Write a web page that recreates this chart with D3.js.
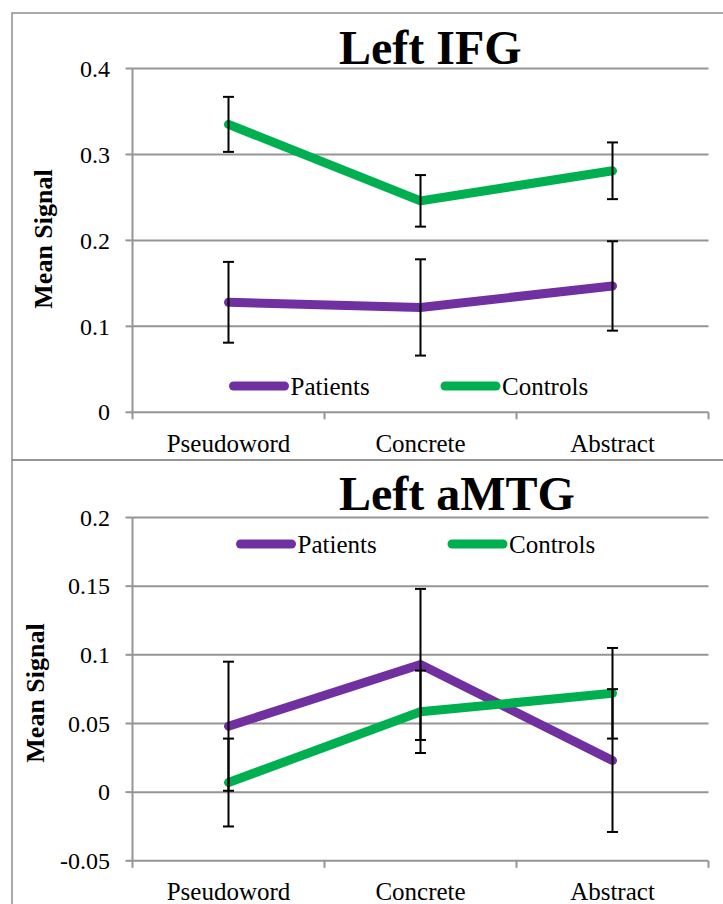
<!DOCTYPE html>
<html><head><meta charset="utf-8">
<script src="https://cdn.jsdelivr.net/npm/d3@7"></script>
<style>html,body{margin:0;padding:0;background:#fff;}svg{display:block;}</style>
</head><body>
<svg id="c" width="723" height="904"></svg>
<script>
const categories = ["Pseudoword", "Concrete", "Abstract"];
const seriesNames = ["Patients", "Controls"];
const ifgPatients = [0.128, 0.122, 0.147];
const ifgPatientsErr = [0.047, 0.056, 0.052];
const ifgControls = [0.335, 0.246, 0.281];
const ifgControlsErr = [0.032, 0.030, 0.033];
const mtgPatients = [0.048, 0.093, 0.023];
const mtgPatientsErr = [0.047, 0.055, 0.052];
const mtgControls = [0.007, 0.0585, 0.072];
const mtgControlsErr = [0.032, 0.030, 0.033];
const ifgTicks = [0, 0.1, 0.2, 0.3, 0.4];
const mtgTicks = [-0.05, 0, 0.05, 0.1, 0.15, 0.2];
const ifgTickLabels = ["0", "0.1", "0.2", "0.3", "0.4"];
const mtgTickLabels = ["-0.05", "0", "0.05", "0.1", "0.15", "0.2"];
const titles = ["Left IFG", "Left aMTG"];
const yLabel = "Mean Signal";

const colors = {Patients: "#7030A0", Controls: "#00B050"};
const svg = d3.select("#c");
const FONT = "'Liberation Serif','Times New Roman',Times,serif";
const GRID = "#959595";

// panel borders
svg.append("rect").attr("x", 12).attr("y", 13).attr("width", 760).attr("height", 447)
  .attr("fill", "none").attr("stroke", "#8e8e8e").attr("stroke-width", 1.5);
svg.append("rect").attr("x", 12).attr("y", 460).attr("width", 760).attr("height", 500)
  .attr("fill", "none").attr("stroke", "#8e8e8e").attr("stroke-width", 1.5);

function panel(cfg) {
  const g = svg.append("g");
  const x = d3.scaleBand().domain(categories).range([132.5, 708.5]);
  const y = d3.scaleLinear().domain(cfg.domain).range(cfg.yRange);
  const ticks = cfg.ticks;
  // gridlines
  g.selectAll(".grid").data(ticks).join("line")
    .attr("x1", 132.5).attr("x2", 708.5)
    .attr("y1", d => y(d)).attr("y2", d => y(d))
    .attr("stroke", GRID).attr("stroke-width", 2);
  // y axis line
  g.append("line").attr("x1", 132.5).attr("x2", 132.5)
    .attr("y1", y(cfg.domain[1])).attr("y2", y(cfg.domain[0]))
    .attr("stroke", GRID).attr("stroke-width", 2);
  // y ticks
  g.selectAll(".yt").data(ticks).join("line")
    .attr("x1", 125.5).attr("x2", 132.5)
    .attr("y1", d => y(d)).attr("y2", d => y(d))
    .attr("stroke", GRID).attr("stroke-width", 2);
  g.selectAll(".yl").data(ticks).join("text")
    .attr("x", 110).attr("y", d => y(d)).attr("dy", "0.34em")
    .attr("text-anchor", "end").attr("font-family", FONT).attr("font-size", 24)
    .attr("fill", "#000").text((d, i) => cfg.tickLabels[i]);
  // x ticks at band boundaries
  const bounds = categories.map(c => x(c)).concat([x(categories[2]) + x.bandwidth()]);
  g.selectAll(".xt").data(bounds).join("line")
    .attr("x1", d => d).attr("x2", d => d)
    .attr("y1", y(cfg.domain[0])).attr("y2", y(cfg.domain[0]) + 7)
    .attr("stroke", GRID).attr("stroke-width", 2);
  g.selectAll(".xl").data(categories).join("text")
    .attr("x", d => x(d) + x.bandwidth() / 2).attr("y", cfg.catY)
    .attr("text-anchor", "middle").attr("font-family", FONT).attr("font-size", 25)
    .attr("fill", "#000").text(d => d);
  // title
  g.append("text").attr("x", 339).attr("y", cfg.titleY)
    .attr("font-family", FONT).attr("font-weight", "bold").attr("font-size", 48)
    .attr("fill", "#000").text(cfg.title);
  // y label
  g.append("text").attr("transform", `translate(${cfg.ylx},${cfg.yly}) rotate(-90)`)
    .attr("text-anchor", "middle").attr("dy", "0.34em")
    .attr("font-family", FONT).attr("font-weight", "bold").attr("font-size", 26)
    .attr("fill", "#000").text(yLabel);
  // series
  const line = d3.line().x((d, i) => x(categories[i]) + x.bandwidth() / 2).y(d => y(d));
  cfg.series.forEach(s => {
    g.append("path").datum(s.values).attr("d", line)
      .attr("fill", "none").attr("stroke", colors[s.name]).attr("stroke-width", 9)
      .attr("stroke-linecap", "round").attr("stroke-linejoin", "round");
  });
  // error bars
  cfg.series.forEach(s => {
    s.values.forEach((v, i) => {
      const cx = x(categories[i]) + x.bandwidth() / 2;
      const e = s.err[i];
      g.append("line").attr("x1", cx).attr("x2", cx).attr("y1", y(v + e)).attr("y2", y(v - e))
        .attr("stroke", "#000").attr("stroke-width", 2);
      [v + e, v - e].forEach(b => {
        g.append("line").attr("x1", cx - 5.5).attr("x2", cx + 5.5).attr("y1", y(b)).attr("y2", y(b))
          .attr("stroke", "#000").attr("stroke-width", 2);
      });
    });
  });
  // legend
  cfg.legend.forEach(l => {
    g.append("line").attr("x1", l.x + 4.5).attr("x2", l.x + 55.5).attr("y1", cfg.legY).attr("y2", cfg.legY)
      .attr("stroke", colors[l.name]).attr("stroke-width", 9).attr("stroke-linecap", "round");
    g.append("text").attr("x", l.x + 61.5).attr("y", cfg.legY).attr("dy", "0.34em")
      .attr("font-family", FONT).attr("font-size", 25).attr("fill", "#000").text(l.name);
  });
}

panel({
  domain: [0, 0.4], yRange: [412.3, 68.5], ticks: ifgTicks, tickLabels: ifgTickLabels,
  catY: 452, titleY: 64,
  title: titles[0], ylx: 43, yly: 239, legY: 386,
  series: [
    {name: seriesNames[0], values: ifgPatients, err: ifgPatientsErr},
    {name: seriesNames[1], values: ifgControls, err: ifgControlsErr}
  ],
  legend: [{name: seriesNames[0], x: 229}, {name: seriesNames[1], x: 440.5}]
});
panel({
  domain: [-0.05, 0.2], yRange: [860.8, 517.5], ticks: mtgTicks, tickLabels: mtgTickLabels,
  catY: 900, titleY: 510,
  title: titles[1], ylx: 35, yly: 693, legY: 544,
  series: [
    {name: seriesNames[0], values: mtgPatients, err: mtgPatientsErr},
    {name: seriesNames[1], values: mtgControls, err: mtgControlsErr}
  ],
  legend: [{name: seriesNames[0], x: 236}, {name: seriesNames[1], x: 447.5}]
});
</script>
</body></html>
